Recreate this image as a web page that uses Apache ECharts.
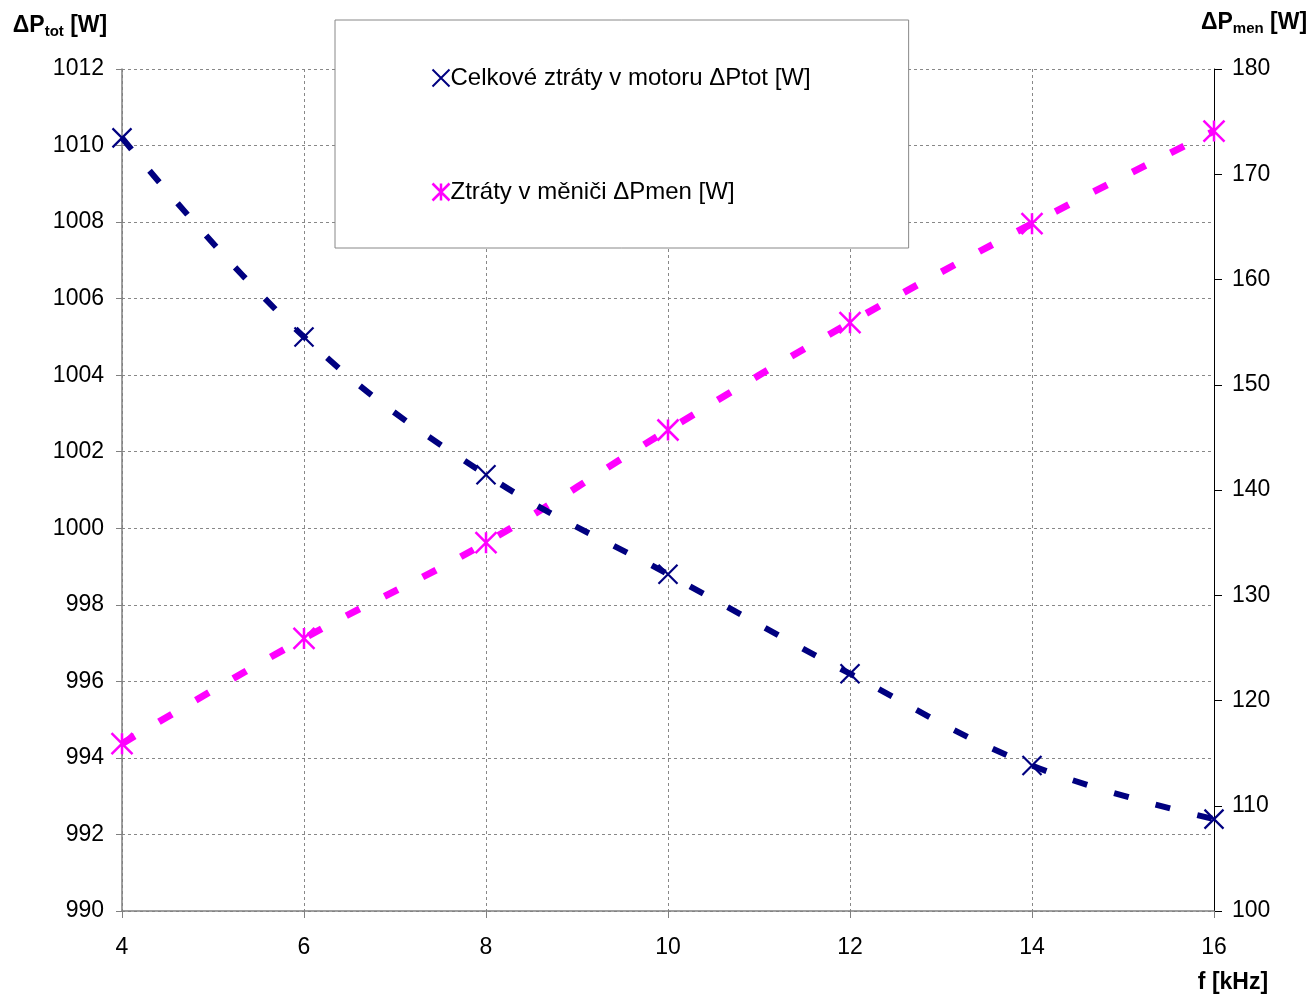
<!DOCTYPE html>
<html><head><meta charset="utf-8">
<script src="https://cdn.jsdelivr.net/npm/echarts@6/dist/echarts.min.js"></script>
<style>html,body{margin:0;padding:0;background:#fff}#c{width:1313px;height:994px}</style>
</head><body><div id="c"></div>
<script>
const freq = [4, 6, 8, 10, 12, 14, 16];
const lossTotal = [1010.2, 1005.0, 1001.4, 998.8, 996.2, 993.8, 992.4];
const lossConverter = [115.9, 125.9, 135.0, 145.7, 155.9, 165.3, 174.1];
const seriesNames = ['Celkové ztráty v motoru ΔPtot [W]', 'Ztráty v měniči ΔPmen [W]'];
const xName = 'f [kHz]';

const FONT = '"Liberation Sans", Arial, sans-serif';
const NAVY = '#000080';
const MAG = '#FF00FF';
const crossPath = 'path://M0,0 L20,20 M20,0 L0,20';
const starPath = 'path://M0,0 L20,20 M20,0 L0,20 M10,0 L10,20';

const pairs = (ys) => freq.map((f, i) => [f, ys[i]]);
const plain = (v) => String(v);

const chart = echarts.init(document.getElementById('c'), null, {renderer: 'canvas'});
const gridLine = {show: true, lineStyle: {color: '#888', type: [3, 3], width: 1}};
chart.setOption({
  animation: false,
  backgroundColor: '#fff',
  textStyle: {fontFamily: FONT},
  grid: {left: 122, right: 99, top: 69, bottom: 81, containLabel: false},
  legend: {
    left: 335, top: 20,
    orient: 'vertical',
    padding: [46, 98, 44, 95],
    itemGap: 90,
    itemWidth: 17, itemHeight: 17,
    backgroundColor: '#fff',
    borderColor: '#888', borderWidth: 1, borderRadius: 0,
    selectedMode: false,
    textStyle: {fontFamily: FONT, fontSize: 24, color: '#000', padding: [0, 0, 0, -4]},
    data: [
      {name: seriesNames[0], icon: crossPath, itemStyle: {color: 'none', borderColor: NAVY, borderWidth: 2}},
      {name: seriesNames[1], icon: starPath, itemStyle: {color: 'none', borderColor: MAG, borderWidth: 2.5}}
    ]
  },
  xAxis: {
    type: 'value', min: 4, max: 16, interval: 2,
    name: xName, nameLocation: 'end', nameGap: 0,
    nameTextStyle: {fontFamily: FONT, fontSize: 23, fontWeight: 'bold', color: '#000', align: 'center', verticalAlign: 'top', padding: [60, 0, 0, 38]},
    axisLine: {lineStyle: {color: '#808080', width: 1.5}},
    axisTick: {show: true, length: 7, lineStyle: {color: '#808080'}},
    axisLabel: {fontFamily: FONT, fontSize: 23, color: '#000', margin: 25, formatter: plain},
    splitLine: gridLine
  },
  yAxis: [
    {
      type: 'value', min: 990, max: 1012, interval: 2, position: 'left',
      name: '{b|ΔP}{s|tot}{b| [W]}', nameLocation: 'end', nameGap: 30,
      nameTextStyle: {align: 'center', padding: [0, 124, 0, 0],
        rich: {b: {fontFamily: FONT, fontSize: 23, fontWeight: 'bold', color: '#000'},
               s: {fontFamily: FONT, fontSize: 15, fontWeight: 'bold', color: '#000', padding: [11, 0, 0, 0]}}},
      axisLine: {show: true, lineStyle: {color: '#808080', width: 1.5}},
      axisTick: {show: true, length: 6, lineStyle: {color: '#808080'}},
      axisLabel: {fontFamily: FONT, fontSize: 23, color: '#000', margin: 18, formatter: plain},
      splitLine: gridLine
    },
    {
      type: 'value', min: 100, max: 180, interval: 10, position: 'right',
      name: '{b|ΔP}{s|men}{b| [W]}', nameLocation: 'end', nameGap: 33,
      nameTextStyle: {align: 'center', padding: [0, 0, 0, 80],
        rich: {b: {fontFamily: FONT, fontSize: 23, fontWeight: 'bold', color: '#000'},
               s: {fontFamily: FONT, fontSize: 15, fontWeight: 'bold', color: '#000', padding: [11, 0, 0, 0]}}},
      axisLine: {show: true, lineStyle: {color: '#000', width: 1}},
      axisTick: {show: true, length: 8, lineStyle: {color: '#000'}},
      axisLabel: {fontFamily: FONT, fontSize: 23, color: '#000', margin: 18, formatter: plain},
      splitLine: {show: false}
    }
  ],
  series: [
    {
      name: seriesNames[0], type: 'line', yAxisIndex: 0,
      data: pairs(lossTotal), smooth: 0.4,
      symbol: crossPath, symbolSize: 19,
      itemStyle: {color: 'none', borderColor: NAVY, borderWidth: 2.2},
      lineStyle: {color: NAVY, width: 6, type: [15, 28]},
      z: 3
    },
    {
      name: seriesNames[1], type: 'line', yAxisIndex: 1,
      data: pairs(lossConverter), smooth: 0.4,
      symbol: starPath, symbolSize: 21,
      itemStyle: {color: 'none', borderColor: MAG, borderWidth: 2.5},
      lineStyle: {color: MAG, width: 7, type: [15, 28]},
      z: 2
    }
  ]
});
</script></body></html>
